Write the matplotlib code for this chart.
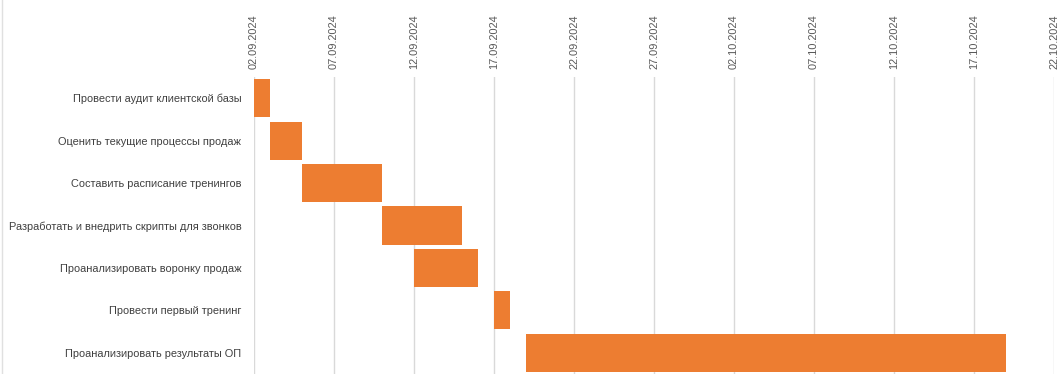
import datetime as dt
import matplotlib
matplotlib.use("Agg")
import matplotlib.pyplot as plt
import matplotlib.dates as mdates
from matplotlib.lines import Line2D

tasks = [
    "Провести аудит клиентской базы",
    "Оценить текущие процессы продаж",
    "Составить расписание тренингов",
    "Разработать и внедрить скрипты для звонков",
    "Проанализировать воронку продаж",
    "Провести первый тренинг",
    "Проанализировать результаты ОП",
]
starts = ["2024-09-02", "2024-09-03", "2024-09-05", "2024-09-10",
          "2024-09-12", "2024-09-17", "2024-09-19"]
durations = [1, 2, 5, 5, 4, 1, 30]

start_dates = [mdates.date2num(dt.date.fromisoformat(s)) for s in starts]

plt.rcParams['font.family'] = ['Liberation Sans', 'DejaVu Sans']

fig = plt.figure(figsize=(10.62, 3.74), dpi=100)
ax = fig.add_axes([254/1062, 0, 800/1062, 297/374])

ax.barh(range(len(tasks)), durations, left=start_dates, height=0.9,
        color="#ED7D31", zorder=3)

x0 = mdates.date2num(dt.date(2024, 9, 2))
x1 = mdates.date2num(dt.date(2024, 10, 22))
ax.set_xlim(x0, x1)
ax.set_ylim(len(tasks) - 0.5, -0.5)

ticks = [x0 + 5 * i for i in range(11)]
ax.set_xticks(ticks)
ax.xaxis.set_major_formatter(mdates.DateFormatter("%d.%m.%Y"))
ax.xaxis.tick_top()
ax.tick_params(axis="x", length=0, rotation=90, labelsize=7.9,
               labelcolor="#595959", pad=6)
ax.set_yticks(range(len(tasks)))
ax.set_yticklabels(tasks)
ax.tick_params(axis="y", length=0, labelsize=7.9, labelcolor="#404040", pad=9)

ax.grid(axis="x", color="#D9D9D9", linewidth=1, zorder=0)
for s in ax.spines.values():
    s.set_visible(False)

# faint sheet border on the far left
fig.add_artist(Line2D([2/1062, 2/1062], [0, 1], color="#E0E0E0", linewidth=1))

fig.savefig("out.png", dpi=100)
